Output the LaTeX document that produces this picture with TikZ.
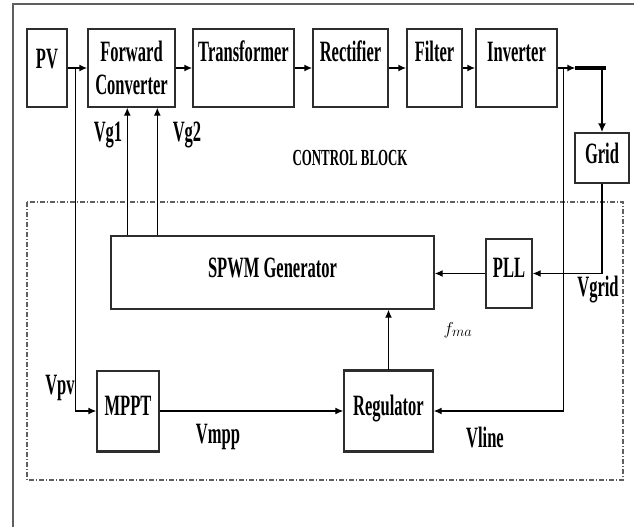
\documentclass[tikz,border=0pt]{standalone}
\usepackage{fontspec}
\setmainfont{Liberation Serif}[FakeStretch=0.56]
\usepackage{xcolor}
\usepackage{tikz}
\usetikzlibrary{arrows,arrows.meta,positioning,calc}
\definecolor{boxline}{RGB}{45,45,45}
\definecolor{framegray}{RGB}{95,95,95}
\tikzset{
    blk/.style={draw=boxline, line width=1.4pt, inner sep=0pt, align=center,
        font=\bfseries\fontsize{29.5}{33}\selectfont},
    lbl/.style={inner sep=0pt, font=\bfseries\fontsize{29.5}{33}\selectfont},
    flow/.style={line width=1.7pt, -{Latex[length=8pt,width=7pt]}},
    sig/.style={line width=1.2pt, -{Latex[length=8pt,width=7pt]}},
}

\begin{document}
\begin{tikzpicture}[x=1pt, y=-1pt]
    \useasboundingbox (0,0) rectangle (634,527);
    \draw[framegray, line width=1.6pt] (13,527) -- (13,4) -- (634,4);
    % power stage
    \node[blk, minimum width=40pt, text height=39pt, text depth=39pt] (pv) at (47,68) {PV};
    \node[blk, minimum width=87pt, minimum height=78pt] (fc) at (131.5,68) {Forward\\Converter};
    \node[blk, minimum width=101pt, text height=33pt, text depth=45pt] (tr) at (243.5,68) {Transformer};
    \node[blk, minimum width=75pt, text height=33pt, text depth=45pt] (re) at (350.5,68) {Rectifier};
    \node[blk, minimum width=55pt, text height=33pt, text depth=45pt] (fi) at (434.5,68) {Filter};
    \node[blk, minimum width=81pt, text height=33pt, text depth=45pt] (inv) at (516.5,68) {Inverter};
    \node[blk, minimum width=54pt, text height=30pt, text depth=20pt] (grid) at (602,158) {Grid};
    % control block
    \draw[framegray, line width=1.3pt, dash pattern=on 5pt off 2pt on 1pt off 2pt] (27,202) rectangle (623,480);
    \node[lbl, font=\bfseries\fontsize{23}{24}\selectfont] (ctrl) at (350,158) {CONTROL BLOCK};
    \node[blk, minimum width=323pt, text height=41pt, text depth=32pt] (spwm) at (272.5,272.5) {SPWM Generator};
    \node[blk, minimum width=46pt, text height=38pt, text depth=31pt] (pll) at (509,273.5) {PLL};
    \node[blk, minimum width=62pt, text height=44pt, text depth=36pt] (mppt) at (128,411) {MPPT};
    \node[blk, minimum width=89pt, text height=44pt, text depth=36pt] (reg) at (388.5,411) {Regulator};
    \draw[boxline, line width=3pt] (reg.north west) -- (reg.north east);
    \draw[boxline, line width=2.5pt] (reg.south west) -- (reg.south east);
    \draw[boxline, line width=2.5pt] (mppt.south west) -- (mppt.south east);
    % arrows of the power stage
    \draw[flow] (pv.east) -- (fc.west);
    \draw[flow] (fc.east) -- (tr.west);
    \draw[flow] (tr.east) -- (re.west);
    \draw[flow] (re.east) -- (fi.west);
    \draw[flow] (fi.east) -- (inv.west);
    \coordinate (tee) at (grid.north |- inv.east);
    \coordinate (outhd) at ($(inv.east)!0.4!(tee)$);
    \coordinate (tap) at ($(pv.east)!0.38!(fc.west)$);
    \coordinate (vtap) at ($(inv.east)!0.13!(tee)$);
    \draw[flow] (inv.east) -- (outhd);
    \draw[line width=3.5pt] (outhd) -- ($(tee)+(4,0)$);
    \draw[line width=2.5pt, -{Latex[length=9pt,width=8pt]}] (tee) -- (grid.north);
    % control signals
    \coordinate (g1) at ($(fc.south west)+(40,0)$);
    \coordinate (g2) at ($(fc.south west)+(70,0)$);
    \draw[sig] (g1 |- spwm.north) -- (g1);
    \draw[sig] (g2 |- spwm.north) -- (g2);
    \draw[sig] (tap) |- (mppt.west);
    \draw[sig] (mppt.east) -- (reg.west);
    \draw[sig] (vtap) |- (reg.east);
    \draw[sig] (reg.north) -- (reg.north |- spwm.south);
    \draw[sig] (grid.south) |- (pll.east);
    \draw[sig] (pll.west) -- (spwm.east |- pll.west);
    % labels
    \node[lbl] (vg1) at (108,135) {Vg1};
    \node[lbl] (vg2) at (187,135) {Vg2};
    \node[lbl] (vpv) at (60,388) {Vpv};
    \node[lbl] (vmpp) at (218,437) {Vmpp};
    \node[lbl] (vline) at (485,437) {Vline};
    \node[lbl] (vgrid) at (598,290) {Vgrid};
    \node[inner sep=0pt, font=\fontsize{19}{19}\selectfont] (fma) at (458,330) {$f_{ma}$};
\end{tikzpicture}
\end{document}
